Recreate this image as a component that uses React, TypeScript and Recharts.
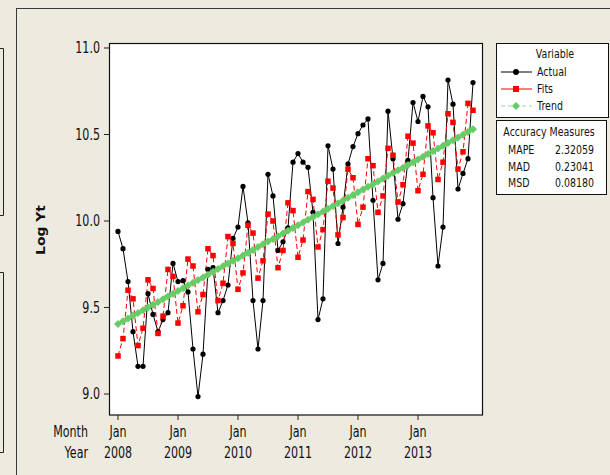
import React from "react";
import { LineChart, Line, XAxis, YAxis } from "recharts";

// Monthly log sales, Jan 2008 .. Dec 2013 (72 periods)
const actual = [
  9.94, 9.84, 9.65, 9.36, 9.16, 9.16, 9.58, 9.46, 9.36, 9.43, 9.47, 9.755,
  9.65, 9.655, 9.59, 9.26, 8.985, 9.23, 9.72, 9.73, 9.47, 9.54, 9.63, 9.9,
  9.965, 10.2, 9.99, 9.54, 9.26, 9.54, 10.27, 10.145, 9.83, 9.88, 9.96, 10.34,
  10.39, 10.34, 10.31, 10.05, 9.43, 9.55, 10.435, 10.3, 9.87, 10.08, 10.33, 10.43,
  10.505, 10.555, 10.59, 10.12, 9.66, 9.755, 10.635, 10.36, 10.01, 10.1, 10.35, 10.685,
  10.575, 10.72, 10.66, 10.135, 9.74, 9.965, 10.815, 10.675, 10.185, 10.275, 10.36, 10.8,
];

const fits = [
  9.22, 9.32, 9.6, 9.55, 9.28, 9.38, 9.66, 9.61, 9.35, 9.45, 9.72, 9.68,
  9.41, 9.51, 9.78, 9.74, 9.475, 9.575, 9.84, 9.8, 9.54, 9.64, 9.91, 9.87,
  9.605, 9.7, 9.975, 9.93, 9.67, 9.77, 10.04, 10.0, 9.73, 9.83, 10.105, 10.06,
  9.79, 9.89, 10.17, 10.125, 9.85, 9.95, 10.23, 10.19, 9.92, 10.02, 10.3, 10.25,
  9.98, 10.08, 10.36, 10.32, 10.05, 10.145, 10.42, 10.38, 10.11, 10.21, 10.49, 10.45,
  10.175, 10.27, 10.55, 10.51, 10.24, 10.34, 10.62, 10.57, 10.3, 10.4, 10.68, 10.64,
];

const trend = [
  9.405, 9.421, 9.437, 9.453, 9.468, 9.484, 9.5, 9.516, 9.532, 9.548, 9.564, 9.579,
  9.595, 9.611, 9.627, 9.643, 9.659, 9.674, 9.69, 9.706, 9.722, 9.738, 9.754, 9.77,
  9.785, 9.801, 9.817, 9.833, 9.849, 9.865, 9.881, 9.896, 9.912, 9.928, 9.944, 9.96,
  9.976, 9.991, 10.007, 10.023, 10.039, 10.055, 10.071, 10.087, 10.102, 10.118, 10.134, 10.15,
  10.166, 10.182, 10.198, 10.213, 10.229, 10.245, 10.261, 10.277, 10.293, 10.308, 10.324, 10.34,
  10.356, 10.372, 10.388, 10.404, 10.419, 10.435, 10.451, 10.467, 10.483, 10.499, 10.515, 10.53,
];

const xTickIndex = [0, 12, 24, 36, 48, 60];
const xTickMonth = ["Jan", "Jan", "Jan", "Jan", "Jan", "Jan"];
const xTickYear = ["2008", "2009", "2010", "2011", "2012", "2013"];
const yTicks = [9.0, 9.5, 10.0, 10.5, 11.0];

const accuracyNames = ["MAPE", "MAD", "MSD"];
const accuracyValues = ["2.32059", "0.23041", "0.08180"];

const data = actual.map((v, i) => ({ t: i, actual: v, fits: fits[i], trend: trend[i] }));

const FONT = "DejaVu Sans";
const BG = "#EDEAE0";
const GREEN = "#66CC66";

type TxtProps = {
  x: number;
  y: number;
  size: number;
  sx: number;
  anchor?: "start" | "middle" | "end";
  bold?: boolean;
  rotate?: number;
  children: React.ReactNode;
};

// Text drawn with a horizontal squeeze to get the narrow, tall look
function Txt({ x, y, size, sx, anchor = "start", bold, rotate, children }: TxtProps) {
  const tf = `translate(${x},${y}) scale(${sx},1)` + (rotate ? ` rotate(${rotate})` : "");
  return (
    <text
      transform={tf}
      fontFamily={FONT}
      fontSize={size}
      fontWeight={bold ? "bold" : "normal"}
      textAnchor={anchor}
      dominantBaseline="central"
      fill="#111"
    >
      {children}
    </text>
  );
}

const YTick = (props: any) => {
  const { x, y, payload } = props;
  return (
    <Txt x={x} y={y} size={15} sx={0.74} anchor="end">
      {Number(payload.value).toFixed(1)}
    </Txt>
  );
};

const XTick = (props: any) => {
  const { x, y, payload } = props;
  const k = xTickIndex.indexOf(payload.value);
  return (
    <g>
      <Txt x={x} y={y + 12} size={15} sx={0.74} anchor="middle">
        {xTickMonth[k]}
      </Txt>
      <Txt x={x} y={y + 33} size={15} sx={0.74} anchor="middle">
        {xTickYear[k]}
      </Txt>
    </g>
  );
};

const SquareDot = (p: any) => {
  if (p.cx == null || p.cy == null) return <g key={p.index} />;
  return <rect key={p.index} x={p.cx - 2.75} y={p.cy - 2.75} width={5.5} height={5.5} fill="#FF0000" />;
};

const CircleDot = (p: any) => {
  if (p.cx == null || p.cy == null) return <g key={p.index} />;
  return <circle key={p.index} cx={p.cx} cy={p.cy} r={2.6} fill="#000" />;
};

const DiamondDot = (p: any) => {
  if (p.cx == null || p.cy == null) return <g key={p.index} />;
  const { cx, cy } = p;
  const d = 4;
  return (
    <polygon
      key={p.index}
      points={`${cx},${cy - d} ${cx + d},${cy} ${cx},${cy + d} ${cx - d},${cy}`}
      fill={GREEN}
    />
  );
};

function Backdrop() {
  return (
    <svg width={610} height={475} style={{ position: "absolute", left: 0, top: 0 }}>
      <rect x={0} y={0} width={610} height={475} fill={BG} />
      {/* window frame */}
      <line x1={16.5} y1={8} x2={16.5} y2={475} stroke="#3a3a3a" strokeWidth={1} />
      <line x1={16} y1={8.5} x2={610} y2={8.5} stroke="#3a3a3a" strokeWidth={1} />
      <polyline points="0,48.5 3.5,48.5 3.5,215.5 0,215.5" fill="none" stroke="#222" />
      <polyline points="0,272.5 3.5,272.5 3.5,452.5 0,452.5" fill="none" stroke="#222" />
      {/* plot area */}
      <rect x={109.5} y={43.5} width={373} height={371.5} fill="#fff" stroke="#111" strokeWidth={1.2} />
      <Txt x={41} y={230} size={13.9} sx={0.84} anchor="middle" bold rotate={-90}>
        Log Yt
      </Txt>
      <Txt x={88} y={432} size={15} sx={0.74} anchor="end">
        Month
      </Txt>
      <Txt x={88} y={453} size={15} sx={0.74} anchor="end">
        Year
      </Txt>
      {/* legend */}
      <rect x={496.5} y={43.5} width={112} height={74} fill="#fff" stroke="#111" />
      <Txt x={555} y={54} size={11.4} sx={0.83} anchor="middle">
        Variable
      </Txt>
      <line x1={501} y1={72} x2={532} y2={72} stroke="#000" />
      <circle cx={516} cy={72} r={3} fill="#000" />
      <Txt x={537} y={72} size={11.4} sx={0.83}>
        Actual
      </Txt>
      <line x1={501} y1={89} x2={532} y2={89} stroke="#FF0000" />
      <rect x={513} y={86} width={6} height={6} fill="#FF0000" />
      <Txt x={537} y={89} size={11.4} sx={0.83}>
        Fits
      </Txt>
      <line x1={501} y1={106} x2={532} y2={106} stroke="#9BD99B" strokeDasharray="4 3" />
      <polygon points="516,102 520,106 516,110 512,106" fill={GREEN} />
      <Txt x={537} y={106} size={11.4} sx={0.83}>
        Trend
      </Txt>
      <rect x={496.5} y={120.5} width={110} height={74} fill="#fff" stroke="#111" />
      <Txt x={549} y={131.5} size={11.4} sx={0.83} anchor="middle">
        Accuracy Measures
      </Txt>
      {accuracyNames.map((n, i) => (
        <g key={n}>
          <Txt x={508} y={149.3 + i * 16.9} size={11.4} sx={0.83}>
            {n}
          </Txt>
          <Txt x={555} y={149.3 + i * 16.9} size={11.4} sx={0.83}>
            {accuracyValues[i]}
          </Txt>
        </g>
      ))}
    </svg>
  );
}

export default function App() {
  return (
    <div style={{ position: "absolute", left: 0, top: 0, width: 610, height: 475, overflow: "hidden" }}>
      <Backdrop />
      <div style={{ position: "absolute", left: 0, top: 0 }}>
        <LineChart width={610} height={475} data={data} margin={{ top: 43, right: 127, bottom: 0, left: 0 }}>
          <XAxis
            dataKey="t"
            type="number"
            domain={[-1.8, 73]}
            ticks={xTickIndex}
            allowDataOverflow
            height={60}
            axisLine={false}
            tickSize={5}
            tickMargin={0}
            tickLine={{ stroke: "#222" }}
            tick={<XTick />}
            interval={0}
          />
          <YAxis
            type="number"
            domain={[8.8786, 11.0289]}
            ticks={yTicks}
            allowDataOverflow
            width={109}
            axisLine={false}
            tickSize={5}
            tickMargin={4}
            tickLine={{ stroke: "#222" }}
            tick={<YTick />}
            interval={0}
          />
          <Line
            dataKey="actual"
            stroke="#000"
            strokeWidth={1}
            dot={CircleDot}
            isAnimationActive={false}
          />
          <Line
            dataKey="fits"
            stroke="#FF0000"
            strokeWidth={1}
            strokeDasharray="5 3"
            dot={SquareDot}
            isAnimationActive={false}
          />
          <Line
            dataKey="trend"
            stroke={GREEN}
            strokeWidth={1}
            strokeDasharray="4 3"
            dot={DiamondDot}
            isAnimationActive={false}
          />
        </LineChart>
      </div>
    </div>
  );
}
